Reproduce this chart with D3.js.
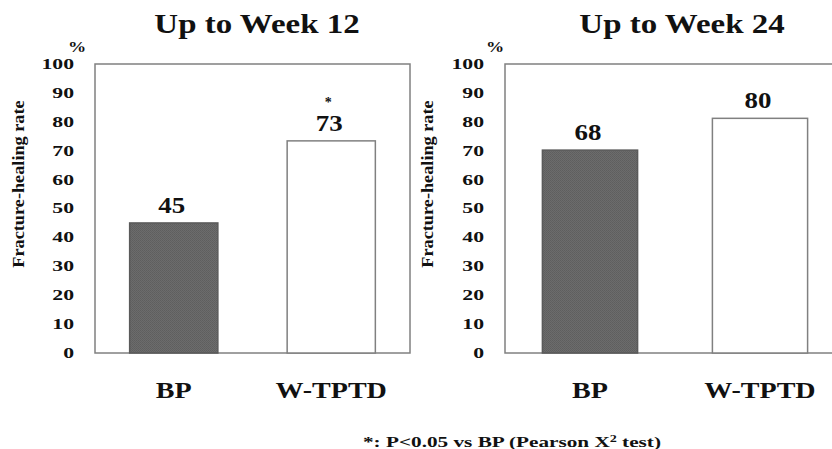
<!DOCTYPE html>
<html>
<head>
<meta charset="utf-8">
<script src="https://cdn.jsdelivr.net/npm/d3@7"></script>
<style>
  html, body { margin: 0; padding: 0; background: #fff; }
  svg { display: block; }
  text { font-family: "Liberation Serif", "Times New Roman", serif; font-weight: bold; fill: #111; }
</style>
</head>
<body>
<svg id="chart" width="832" height="449"></svg>
<script>
// ---- data ----
const categories = ["BP", "W-TPTD"];
const week12Values = [45, 73.4];      // bar heights as drawn
const week12Labels = ["45", "73"];    // printed value labels
const week12Marks = ["", "*"];        // significance marks
const week24Values = [70.2, 81.2];    // bar heights as drawn
const week24Labels = ["68", "80"];    // printed value labels
const week24Marks = ["", ""];
const yTicks = [0, 10, 20, 30, 40, 50, 60, 70, 80, 90, 100];
const panelTitles = ["Up to Week 12", "Up to Week 24"];
const yAxisTitle = "Fracture-healing rate";
const unitLabel = "%";
const footnoteMain = "*: P<0.05 vs BP (Pearson X";
const footnoteSup = "2";
const footnoteEnd = " test)";

// ---- layout ----
const svg = d3.select("#chart");
const plotTop = 64, plotBottom = 353;
const panels = [
  { title: panelTitles[0], values: week12Values, labels: week12Labels, marks: week12Marks,
    x0: 95, x1: 410, titleX: 257, yTitleX: 24, pctX: 77 },
  { title: panelTitles[1], values: week24Values, labels: week24Labels, marks: week24Marks,
    x0: 505, x1: 845, titleX: 682, yTitleX: 433, pctX: 495 }
];

const y = d3.scaleLinear().domain([0, 100]).range([plotBottom, plotTop]);

// fill pattern (stippled gray)
const defs = svg.append("defs");
const pat = defs.append("pattern").attr("id", "stipple")
  .attr("width", 2).attr("height", 2).attr("patternUnits", "userSpaceOnUse");
pat.append("rect").attr("width", 2).attr("height", 2).attr("fill", "#6c6c6c");
pat.append("rect").attr("width", 1).attr("height", 1).attr("fill", "#5e5e5e");
pat.append("rect").attr("x", 1).attr("y", 1).attr("width", 1).attr("height", 1).attr("fill", "#616161");

function stretch(sel, factor) {
  sel.each(function () {
    const w = this.getComputedTextLength();
    d3.select(this).attr("textLength", w * factor).attr("lengthAdjust", "spacingAndGlyphs");
  });
}

panels.forEach(p => {
  const x = d3.scaleBand().domain(categories).range([p.x0, p.x1])
    .paddingInner(0.44).paddingOuter(0.22);
  const g = svg.append("g");

  // frame
  g.append("rect")
    .attr("x", p.x0).attr("y", plotTop)
    .attr("width", p.x1 - p.x0).attr("height", plotBottom - plotTop)
    .attr("fill", "none").attr("stroke", "#808080").attr("stroke-width", 1.5);

  // title
  const t = g.append("text").attr("x", p.titleX).attr("y", 33)
    .attr("text-anchor", "middle").attr("font-size", 27).text(p.title);
  stretch(t, 1.22);

  // % label
  const pc = g.append("text").attr("x", p.pctX).attr("y", 52)
    .attr("text-anchor", "middle").attr("font-size", 14).text(unitLabel);
  stretch(pc, 1.3);

  // y axis (labels only)
  const yAxis = d3.axisLeft(y).tickValues(yTicks).tickSize(0).tickPadding(21);
  const ag = g.append("g").attr("transform", `translate(${p.x0},0)`).call(yAxis);
  ag.select(".domain").remove();
  ag.selectAll("text")
    .attr("font-size", 14).attr("font-family", "Liberation Serif, serif")
    .attr("font-weight", "bold").attr("fill", "#111");
  stretch(ag.selectAll("text"), 1.55);

  // y axis title
  const yt = g.append("text")
    .attr("transform", `translate(${p.yTitleX},184) rotate(-90)`)
    .attr("text-anchor", "middle").attr("font-size", 16).text(yAxisTitle);
  stretch(yt, 1.14);

  // bars
  g.selectAll("rect.bar").data(categories).enter().append("rect")
    .attr("class", "bar")
    .attr("x", d => x(d)).attr("width", x.bandwidth())
    .attr("y", (d, i) => y(p.values[i]))
    .attr("height", (d, i) => y(0) - y(p.values[i]))
    .attr("fill", (d, i) => i === 0 ? "url(#stipple)" : "#fff")
    .attr("stroke", (d, i) => i === 0 ? "#5a5a5a" : "#808080")
    .attr("stroke-width", 1.5);

  // value labels
  const vl = g.selectAll("text.val").data(categories).enter().append("text")
    .attr("class", "val")
    .attr("x", d => x(d) + x.bandwidth() / 2 - 2)
    .attr("y", (d, i) => y(p.values[i]) - 10)
    .attr("text-anchor", "middle").attr("font-size", 23)
    .text((d, i) => p.labels[i]);
  stretch(vl, 1.17);

  // significance marks
  g.selectAll("text.sig").data(categories).enter().append("text")
    .attr("class", "sig")
    .attr("x", d => x(d) + x.bandwidth() / 2 - 3)
    .attr("y", (d, i) => y(p.values[i]) - 34)
    .attr("text-anchor", "middle").attr("font-size", 14).attr("fill", "#444")
    .text((d, i) => p.marks[i]);

  // category labels
  const cl = g.selectAll("text.cat").data(categories).enter().append("text")
    .attr("class", "cat")
    .attr("x", d => x(d) + x.bandwidth() / 2)
    .attr("y", 398)
    .attr("text-anchor", "middle").attr("font-size", 24)
    .text(d => d);
  stretch(cl, 1.17);
});

// footnote
const fn = svg.append("text").attr("x", 512).attr("y", 447)
  .attr("text-anchor", "middle").attr("font-size", 15);
fn.append("tspan").text(footnoteMain);
fn.append("tspan").attr("font-size", 10).attr("dy", -5).text(footnoteSup);
fn.append("tspan").attr("dy", 5).text(footnoteEnd);
fn.attr("textLength", 298).attr("lengthAdjust", "spacingAndGlyphs");
</script>
</body>
</html>
